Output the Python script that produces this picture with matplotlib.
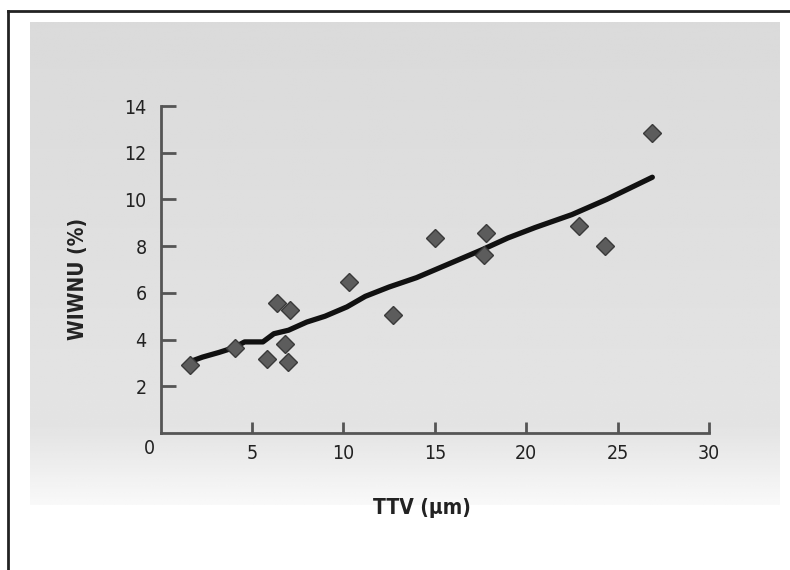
import numpy as np
import matplotlib.pyplot as plt

# scatter points
ttv = [1.6, 4.1, 5.8, 6.35, 7.1, 6.8, 7.0, 10.3, 12.7, 15.0, 17.8, 17.7, 22.9, 24.3, 26.9]
wiwnu = [2.9, 3.65, 3.15, 5.55, 5.25, 3.8, 3.05, 6.45, 5.05, 8.35, 8.55, 7.6, 8.85, 8.0, 12.85]

# the (slightly jagged) trend line
line_x = [1.6, 2.3, 3.2, 4.0, 4.6, 5.6, 6.2, 7.0, 8.0, 9.0, 10.2, 11.2, 12.5, 14.0, 15.5, 17.6, 19.0, 20.5, 22.5, 24.4, 26.9]
line_y = [3.05, 3.25, 3.45, 3.65, 3.9, 3.9, 4.25, 4.4, 4.75, 5.0, 5.4, 5.85, 6.25, 6.65, 7.15, 7.85, 8.35, 8.8, 9.35, 10.0, 10.95]

xticks = [5, 10, 15, 20, 25, 30]
yticks = [2, 4, 6, 8, 10, 12, 14]

plt.rcParams['font.family'] = ['DejaVu Sans', 'Liberation Sans']
plt.rcParams['font.stretch'] = 'condensed'

fig = plt.figure(figsize=(7.9, 5.7), dpi=100)

# gray scanned backdrop with a fade toward the bottom
bg = fig.add_axes([30/790, 1-505/570, 750/790, 483/570], zorder=0)
rows = np.linspace(0, 1, 200)
shade = np.where(rows < 0.85, 0.855 + 0.04*rows/0.85, 0.895 + 0.08*(rows-0.85)/0.15)
bg.imshow(np.tile(shade[:, None], (1, 10)), cmap='gray', vmin=0, vmax=1, aspect='auto')
bg.axis('off')

# page frame (top and left edges only)
fig.add_artist(plt.Line2D([8/790, 1], [1-11/570, 1-11/570], color='#222', lw=2))
fig.add_artist(plt.Line2D([8/790, 8/790], [0, 1-11/570], color='#222', lw=2))

ax = fig.add_axes([160.5/790, 1-433/570, 548.5/790, 327/570], zorder=1)
ax.patch.set_alpha(0)

ax.plot(line_x, line_y, color='#111', lw=3.8, solid_capstyle='round', zorder=2)
ax.plot(ttv, wiwnu, 'D', ms=9.5, color='#5c5c5c', mec='#3a3a3a', mew=1, zorder=3)

ax.set_xlim(0, 30)
ax.set_ylim(0, 14)
ax.set_xticks(xticks)
ax.set_yticks(yticks)
for s in ['top', 'right']:
    ax.spines[s].set_visible(False)
for s in ['left', 'bottom']:
    ax.spines[s].set_color('#555')
    ax.spines[s].set_linewidth(2)
ax.tick_params(axis='x', direction='in', length=8, width=2, color='#555', pad=8, labelsize=14, labelcolor='#222')
ax.tick_params(axis='y', direction='in', length=11, width=2, color='#555', pad=10, labelsize=14, labelcolor='#222')
ax.text(-0.6, -0.65, '0', ha='center', va='center', fontsize=14, color='#222', clip_on=False)

ax.set_xlabel('TTV (\u03bcm)', fontsize=15, fontweight='bold', color='#222')
ax.set_ylabel('WIWNU (%)', fontsize=15, fontweight='bold', color='#222')
ax.xaxis.set_label_coords(0.477, -0.2)
ax.yaxis.set_label_coords(-0.132, 0.47)

fig.savefig('out.png', dpi=100)
